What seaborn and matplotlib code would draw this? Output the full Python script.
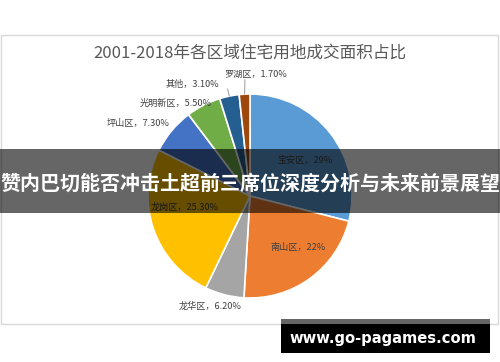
import matplotlib
matplotlib.use("Agg")
import matplotlib.pyplot as plt
import seaborn as sns
import numpy as np
from matplotlib.patches import Rectangle

sns.set_theme(style="white")
plt.rcParams['font.family'] = ['Noto Sans CJK SC', 'DejaVu Sans']

# ---- data ----
regions = ["宝安区", "南山区", "龙华区", "龙岗区", "坪山区", "光明新区", "其他", "罗湖区"]
shares = [29, 22, 6.2, 25.3, 7.3, 5.5, 3.1, 1.7]
share_labels = ["29%", "22%", "6.20%", "25.30%", "7.30%", "5.50%", "3.10%", "1.70%"]
colors = ["#5B9BD5", "#ED7D31", "#A5A5A5", "#FFC000", "#4472C4", "#70AD47", "#255E91", "#9E480E"]
title = "2001-2018年各区域住宅用地成交面积占比"
banner = "赞内巴切能否冲击土超前三席位深度分析与未来前景展望"
watermark = "www.go-pagames.com"

# label placement (data units, pie radius = 1)
label_pos = [(0.54, 0.35), (0.47, -0.50), (-0.39, -1.08), (-0.64, -0.11),
             (-1.10, 0.71), (-0.73, 0.91), (-0.56, 1.09), (0.06, 1.19)]

W, H = 500, 362
fig = plt.figure(figsize=(W / 100, H / 100), dpi=100)
fig.patch.set_facecolor("white")

# chart frame
fig.patches.append(Rectangle((0.5 / W, 1 - 324 / H), 497.5 / W, (324 - 35) / H,
                             transform=fig.transFigure, fill=False,
                             edgecolor="#D9D9D9", linewidth=1.0, zorder=0))

fig.text(250 / W, 1 - 53 / H, title, ha="center", va="center",
         fontsize=12, color="#595959")

R = 102
span = 1.3
size = 2 * span * R
cx, cy = 250, 196
ax = fig.add_axes([(cx - size / 2) / W, (H - cy - size / 2) / H, size / W, size / H])
wedges, _ = ax.pie(shares, colors=colors, startangle=90, counterclock=False,
                   wedgeprops=dict(edgecolor="white", linewidth=1.2))
ax.set_xlim(-span, span)
ax.set_ylim(-span, span)
ax.set_aspect("equal")
ax.axis("off")

for name, lab, (lx, ly) in zip(regions, share_labels, label_pos):
    ax.text(lx, ly, f"{name}，{lab}", ha="center", va="center",
            fontsize=6.6, color="#404040", clip_on=False)

# leader lines for the two small slices
for w, (ex, ey) in zip([wedges[6], wedges[7]], [(-0.22, 1.05), (-0.05, 1.14)]):
    ang = np.deg2rad((w.theta1 + w.theta2) / 2)
    px, py = np.cos(ang), np.sin(ang)
    ax.plot([ex, px], [ey, py], color="#A6A6A6", lw=0.8, clip_on=False)

# banner overlay
fig.patches.append(Rectangle((0, 1 - 213 / H), 1, 64 / H, transform=fig.transFigure,
                             facecolor="black", alpha=0.6, edgecolor="none", zorder=5))
fig.text(0.5, 1 - 183 / H, banner, ha="center", va="center", fontsize=14.4,
         fontweight="bold", color="white", zorder=6)

# watermark
fig.patches.append(Rectangle((281 / W, 1 - 324 / H), 209 / W, 5 / H, transform=fig.transFigure,
                             facecolor="#666666", edgecolor="none", zorder=5))
fig.patches.append(Rectangle((281 / W, 1 - 353 / H), 209 / W, 29 / H, transform=fig.transFigure,
                             facecolor="black", edgecolor="none", zorder=5))
fig.text(383 / W, 1 - 338 / H, watermark, ha="center", va="center", fontsize=10.6,
         fontweight="bold", color="white", family="DejaVu Sans", zorder=6)

fig.savefig("out.png", dpi=100)
